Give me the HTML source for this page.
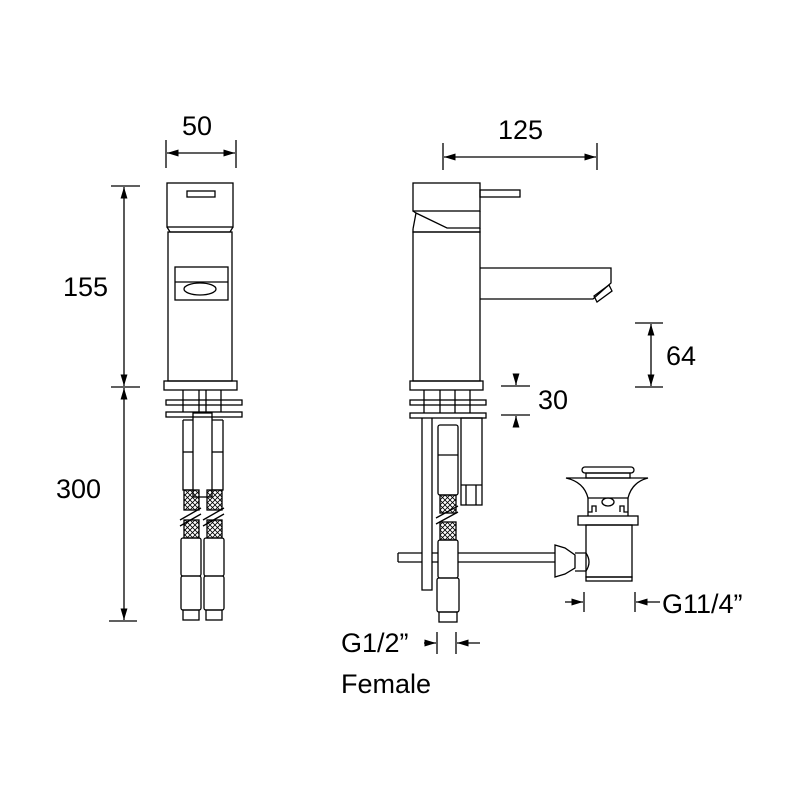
<!DOCTYPE html>
<html><head><style>
html,body{margin:0;padding:0;background:#fff}
svg{display:block}
text{font-family:"Liberation Sans",sans-serif;font-size:27px;fill:#000}
</style></head><body>
<svg width="800" height="800" viewBox="0 0 800 800" xmlns="http://www.w3.org/2000/svg">
<defs>
<marker id="a" viewBox="0 0 10 10" refX="10" refY="5" markerWidth="9" markerHeight="9" orient="auto-start-reverse"><path d="M0,2 L10,5 L0,8z" fill="#000"/></marker>
<pattern id="x" width="5" height="5" patternUnits="userSpaceOnUse"><path d="M0,0L5,5M5,0L0,5" stroke="#000" stroke-width="0.8"/></pattern>
</defs>
<g fill="none" stroke="#000" stroke-width="1.3">
<line x1="166" y1="140" x2="166" y2="168"/><line x1="236" y1="140" x2="236" y2="168"/>
<line x1="167" y1="153" x2="235" y2="153" marker-start="url(#a)" marker-end="url(#a)"/>
<line x1="443" y1="143" x2="443" y2="170"/><line x1="597" y1="143" x2="597" y2="170"/>
<line x1="444" y1="157" x2="596" y2="157" marker-start="url(#a)" marker-end="url(#a)"/>
<line x1="111" y1="186" x2="140" y2="186"/><line x1="111" y1="387" x2="140" y2="387"/><line x1="109" y1="621" x2="137" y2="621"/>
<line x1="124" y1="187" x2="124" y2="386" marker-start="url(#a)" marker-end="url(#a)"/>
<line x1="124" y1="388" x2="124" y2="620" marker-start="url(#a)" marker-end="url(#a)"/>
<line x1="635" y1="323" x2="663" y2="323"/><line x1="635" y1="387" x2="663" y2="387"/>
<line x1="651" y1="324" x2="651" y2="386" marker-start="url(#a)" marker-end="url(#a)"/>
<line x1="501" y1="386" x2="530" y2="386"/><line x1="501" y1="415" x2="530" y2="415"/>
<line x1="516" y1="375" x2="516" y2="385" marker-end="url(#a)"/>
<line x1="516" y1="427" x2="516" y2="416" marker-end="url(#a)"/>
<line x1="437" y1="632" x2="437" y2="654"/><line x1="456" y1="632" x2="456" y2="654"/>
<line x1="424" y1="643" x2="436" y2="643" marker-end="url(#a)"/>
<line x1="480" y1="643" x2="457" y2="643" marker-end="url(#a)"/>
<line x1="584" y1="592" x2="584" y2="612"/><line x1="635" y1="592" x2="635" y2="612"/>
<line x1="565" y1="602" x2="583" y2="602" marker-end="url(#a)"/>
<line x1="660" y1="602" x2="636" y2="602" marker-end="url(#a)"/>

<rect x="167" y="183" width="66" height="44"/>
<rect x="187" y="191" width="28" height="6"/>
<path d="M167,227 L170,232 L230,232 L233,227"/>
<rect x="168" y="232" width="64" height="149"/>
<rect x="175" y="267" width="53" height="33"/>
<line x1="175" y1="282" x2="228" y2="282"/>
<ellipse cx="200" cy="289" rx="16" ry="6"/>
<rect x="164" y="381" width="73" height="9"/>
<rect x="166" y="400" width="76" height="5"/>
<rect x="166" y="412" width="76" height="5"/>
<line x1="183" y1="390" x2="183" y2="412"/><line x1="199" y1="390" x2="199" y2="412"/><line x1="206" y1="390" x2="206" y2="412"/><line x1="221" y1="390" x2="221" y2="412"/>
<rect x="193" y="413" width="19" height="84"/>
<path d="M183,420 h10 M212,420 h11 M183,420 v70 h10 M212,490 h11 v-70"/>
<line x1="183" y1="452" x2="193" y2="452"/><line x1="212" y1="452" x2="223" y2="452"/>
<rect x="184" y="490" width="15" height="20" fill="url(#x)"/>
<rect x="207" y="490" width="15" height="20" fill="url(#x)"/>
<rect x="184" y="520" width="15" height="18" fill="url(#x)"/>
<rect x="207" y="520" width="15" height="18" fill="url(#x)"/>
<path d="M180,520 L201,508 M180,526 L201,514 M203,520 L224,508 M203,526 L224,514"/>
<rect x="181" y="538" width="20" height="38" rx="2"/>
<rect x="204" y="538" width="20" height="38" rx="2"/>
<rect x="181" y="576" width="20" height="34" rx="2"/>
<rect x="204" y="576" width="20" height="34" rx="2"/>
<rect x="183" y="610" width="16" height="10"/><rect x="206" y="610" width="16" height="10"/>

<rect x="413" y="183" width="67" height="28"/>
<rect x="480" y="190" width="40" height="7"/>
<path d="M413,211 L416,213 L447,228 L480,228 L480,211 M416,213 L413,229"/>
<path d="M413,229 L413,232 L480,232 L480,228"/>
<rect x="413" y="232" width="67" height="149"/>
<path d="M480,268 L611,268 L611,283 L593,299 L480,299"/>
<path d="M594,296 L609,285 L612,291 L597,302 z"/>
<rect x="410" y="381" width="73" height="9"/>
<rect x="410" y="400" width="76" height="5"/>
<rect x="410" y="413" width="76" height="5"/>
<line x1="424" y1="390" x2="424" y2="413"/><line x1="440" y1="390" x2="440" y2="413"/><line x1="455" y1="390" x2="455" y2="413"/><line x1="470" y1="390" x2="470" y2="413"/>
<rect x="461" y="418" width="21" height="87"/>
<path d="M466,485 v20 M476,485 v20 M461,485 h21"/>
<rect x="438" y="425" width="20" height="70" rx="2"/>
<line x1="438" y1="455" x2="458" y2="455"/>
<rect x="440" y="495" width="16" height="18" fill="url(#x)"/>
<rect x="440" y="522" width="16" height="18" fill="url(#x)"/>
<path d="M436,518 L458,506 M436,524 L458,512"/>
<path d="M398,553 L422,553 M432,553 L438,553 M458,553 L555,553 M398,562 L422,562 M432,562 L438,562 M458,562 L555,562 M398,553 L398,562"/>
<path d="M422,418 L422,590 L432,590 L432,418"/>
<rect x="438" y="540" width="20" height="38" rx="2"/>
<rect x="437" y="578" width="22" height="34" rx="2"/>
<rect x="439" y="612" width="18" height="10"/>
<rect x="582" y="467" width="52" height="6" rx="3"/>
<rect x="586" y="473" width="44" height="5"/>
<path d="M566,478 L648,478 Q632,482 628,498 L588,498 Q584,482 566,478z"/>
<path d="M588,498 L588,512 L592,512 L592,506 L596,506 L596,512 M628,498 L628,512 L624,512 L624,506 L620,506 L620,512 M588,512 L588,516 M628,512 L628,516"/>
<ellipse cx="608" cy="502" rx="6" ry="4"/>
<rect x="578" y="516" width="60" height="9"/>
<rect x="586" y="525" width="46" height="52"/>
<rect x="586" y="577" width="46" height="4"/>
<path d="M555,545 L565,548 L575,555 L575,568 L565,574 L555,577 z"/>
<path d="M575,553 L586,553 Q592,562 586,571 L575,571"/>
</g>
<text x="182" y="135">50</text>
<text x="498" y="139">125</text>
<text x="63" y="296">155</text>
<text x="56" y="498">300</text>
<text x="666" y="365">64</text>
<text x="538" y="409">30</text>
<text x="341" y="652">G1/2”</text>
<text x="341" y="693">Female</text>
<text x="662" y="613">G11/4”</text>
</svg>
</body></html>
